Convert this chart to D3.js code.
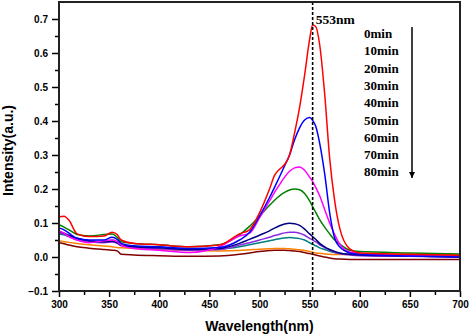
<!DOCTYPE html>
<html>
<head>
<meta charset="utf-8">
<script src="https://cdnjs.cloudflare.com/ajax/libs/d3/7.8.5/d3.min.js"></script>
<style>
body { margin: 0; background: #fff; }
.tick text { font-family: "Liberation Sans", Arial, sans-serif; font-weight: bold; font-size: 10px; }
.legend { font-family: "Liberation Serif", "Times New Roman", serif; font-weight: bold; font-size: 13px; }
.title { font-family: "Liberation Sans", Arial, sans-serif; font-weight: bold; font-size: 14px; }
</style>
</head>
<body>
<div id="chart"></div>
<script>
// wavelength sample points (nm)
var wavelengths = [300,305,310,318,330,345,353,358,362,375,400,430,460,480,490,500,510,515,520,525,530,535,540,545,550,553,556,560,565,570,575,580,590,600,650,700];

var labels = ["0min","10min","20min","30min","40min","50min","60min","70min","80min"];
var colors = ["#ff0000","#0000ff","#ff00ff","#008000","#000080","#8a2be2","#008080","#ff8000","#800000"];

var s0min  = [.118,.12,.108,.068,.06,.062,.073,.066,.05,.04,.036,.03,.035,.068,.08,.13,.2,.24,.258,.272,.3,.365,.44,.535,.64,.682,.678,.625,.48,.29,.165,.085,.024,.012,.008,.005];
var s10min = [.085,.08,.07,.055,.05,.05,.058,.052,.04,.033,.03,.025,.028,.05,.072,.12,.175,.205,.236,.268,.3,.345,.38,.403,.41,.402,.385,.335,.245,.13,.055,.03,.012,.008,.003,0];
var s20min = [.077,.07,.06,.05,.042,.048,.05,.045,.035,.025,.02,.013,.03,.062,.07,.115,.165,.19,.213,.235,.252,.262,.265,.255,.235,.222,.205,.18,.14,.1,.066,.038,.015,.01,.004,.002];
var s30min = [.095,.088,.08,.066,.062,.066,.068,.058,.045,.04,.036,.03,.036,.065,.09,.12,.152,.167,.18,.19,.197,.2,.198,.187,.165,.148,.132,.11,.088,.068,.05,.038,.02,.016,.012,.009];
var s40min = [.075,.07,.064,.055,.048,.045,.046,.042,.035,.03,.027,.022,.025,.04,.052,.064,.077,.085,.092,.097,.099,.098,.093,.082,.068,.06,.052,.04,.03,.022,.016,.012,.008,.006,.003,0];
var s50min = [.072,.067,.06,.05,.045,.042,.044,.04,.033,.028,.024,.02,.022,.035,.042,.05,.058,.063,.067,.071,.073,.073,.07,.064,.055,.05,.045,.036,.028,.02,.014,.01,.006,.004,.002,0];
var s60min = [.068,.065,.06,.052,.047,.045,.05,.045,.035,.03,.028,.024,.024,.03,.036,.042,.048,.051,.054,.056,.057,.056,.054,.05,.042,.037,.033,.027,.022,.017,.013,.01,.008,.007,.005,.004];
var s70min = [.047,.045,.043,.04,.036,.032,.03,.028,.027,.025,.022,.019,.018,.019,.021,.023,.024,.025,.025,.025,.024,.023,.021,.019,.016,.014,.012,.011,.009,.008,.007,.007,.007,.007,.007,.006];
var s80min = [.042,.039,.035,.03,.026,.022,.02,.018,.008,.006,.004,.002,.003,.008,.012,.016,.019,.02,.02,.02,.019,.018,.016,.013,.01,.008,.006,.003,0,-.003,-.005,-.006,-.007,-.007,-.007,-.007];

var series = [s0min,s10min,s20min,s30min,s40min,s50min,s60min,s70min,s80min];

var xTicks = [300,350,400,450,500,550,600,650,700];
var yTicks = [-0.1,0.0,0.1,0.2,0.3,0.4,0.5,0.6,0.7];
var peakNm = 553;

var width = 472, height = 336;
var plot = {left: 59, right: 460, top: 2, bottom: 291};

var x = d3.scaleLinear().domain([300, 700]).range([plot.left, plot.right]);
var y = d3.scaleLinear().domain([-0.1, 0.75]).range([plot.bottom, plot.top]);

var svg = d3.select("#chart").append("svg")
    .attr("width", width)
    .attr("height", height);

svg.append("clipPath").attr("id", "clip")
    .append("rect")
    .attr("x", plot.left).attr("y", plot.top)
    .attr("width", plot.right - plot.left).attr("height", plot.bottom - plot.top);

// curves, last series first so red ends up on top
var line = d3.line()
    .x(function(d, i) { return x(wavelengths[i]); })
    .y(function(d) { return y(d); })
    .curve(d3.curveMonotoneX);

svg.append("g")
    .attr("clip-path", "url(#clip)")
    .selectAll("path")
    .data(series.slice().reverse())
    .enter().append("path")
    .attr("d", line)
    .attr("fill", "none")
    .attr("stroke-width", 1.5)
    .attr("stroke", function(d, i) { return colors[colors.length - 1 - i]; });

// dashed marker at the peak
svg.append("line")
    .attr("x1", x(peakNm)).attr("x2", x(peakNm))
    .attr("y1", plot.top).attr("y2", plot.bottom)
    .attr("stroke", "#000")
    .attr("stroke-width", 1.6)
    .attr("stroke-dasharray", "3,2");

svg.append("text")
    .attr("class", "legend")
    .attr("x", x(peakNm) + 3)
    .attr("y", 24)
    .style("font-size", "13.5px")
    .text(peakNm + "nm");

// axes
var yAxis = svg.append("g")
    .attr("transform", "translate(" + plot.left + ",0)")
    .call(d3.axisLeft(y).tickValues(yTicks).tickSize(7).tickPadding(4).tickFormat(d3.format(".1f")));
svg.append("g")
    .attr("transform", "translate(" + plot.left + ",0)")
    .call(d3.axisLeft(y).tickValues(d3.range(-0.05, 0.7, 0.1)).tickSize(4).tickFormat(""));

var xAxis = svg.append("g")
    .attr("transform", "translate(0," + plot.bottom + ")")
    .call(d3.axisBottom(x).tickValues(xTicks).tickSize(6).tickPadding(4).tickFormat(d3.format("d")));
svg.append("g")
    .attr("transform", "translate(0," + plot.bottom + ")")
    .call(d3.axisBottom(x).tickValues(d3.range(325, 700, 50)).tickSize(4).tickFormat(""));

svg.selectAll(".domain").remove();
svg.selectAll(".tick line").attr("stroke", "#000").attr("stroke-width", 1.5);
svg.selectAll(".tick text").attr("fill", "#000");

// frame
svg.append("rect")
    .attr("x", plot.left).attr("y", plot.top)
    .attr("width", plot.right - plot.left).attr("height", plot.bottom - plot.top)
    .attr("fill", "none")
    .attr("stroke", "#222")
    .attr("stroke-width", 2);

// titles
svg.append("text")
    .attr("class", "title")
    .attr("x", (plot.left + plot.right) / 2)
    .attr("y", 331)
    .attr("text-anchor", "middle")
    .text("Wavelength(nm)");

svg.append("text")
    .attr("class", "title")
    .attr("transform", "translate(13," + ((plot.top + plot.bottom) / 2 + 4) + ") rotate(-90)")
    .attr("text-anchor", "middle")
    .text("Intensity(a.u.)");

// legend labels with the time arrow
svg.append("g")
    .selectAll("text")
    .data(labels)
    .enter().append("text")
    .attr("class", "legend")
    .attr("x", 364)
    .attr("y", function(d, i) { return 38 + i * 17.3; })
    .text(function(d) { return d; });

svg.append("defs").append("marker")
    .attr("id", "arrow")
    .attr("viewBox", "0 0 10 10")
    .attr("refX", 10).attr("refY", 5)
    .attr("markerWidth", 4).attr("markerHeight", 5)
    .attr("markerUnits", "strokeWidth")
    .attr("orient", "auto")
    .append("path")
    .attr("d", "M0,0L10,5L0,10Z")
    .attr("fill", "#000");

svg.append("line")
    .attr("x1", 412).attr("x2", 412)
    .attr("y1", 27).attr("y2", 178)
    .attr("stroke", "#000")
    .attr("stroke-width", 1.5)
    .attr("marker-end", "url(#arrow)");
</script>
</body>
</html>
